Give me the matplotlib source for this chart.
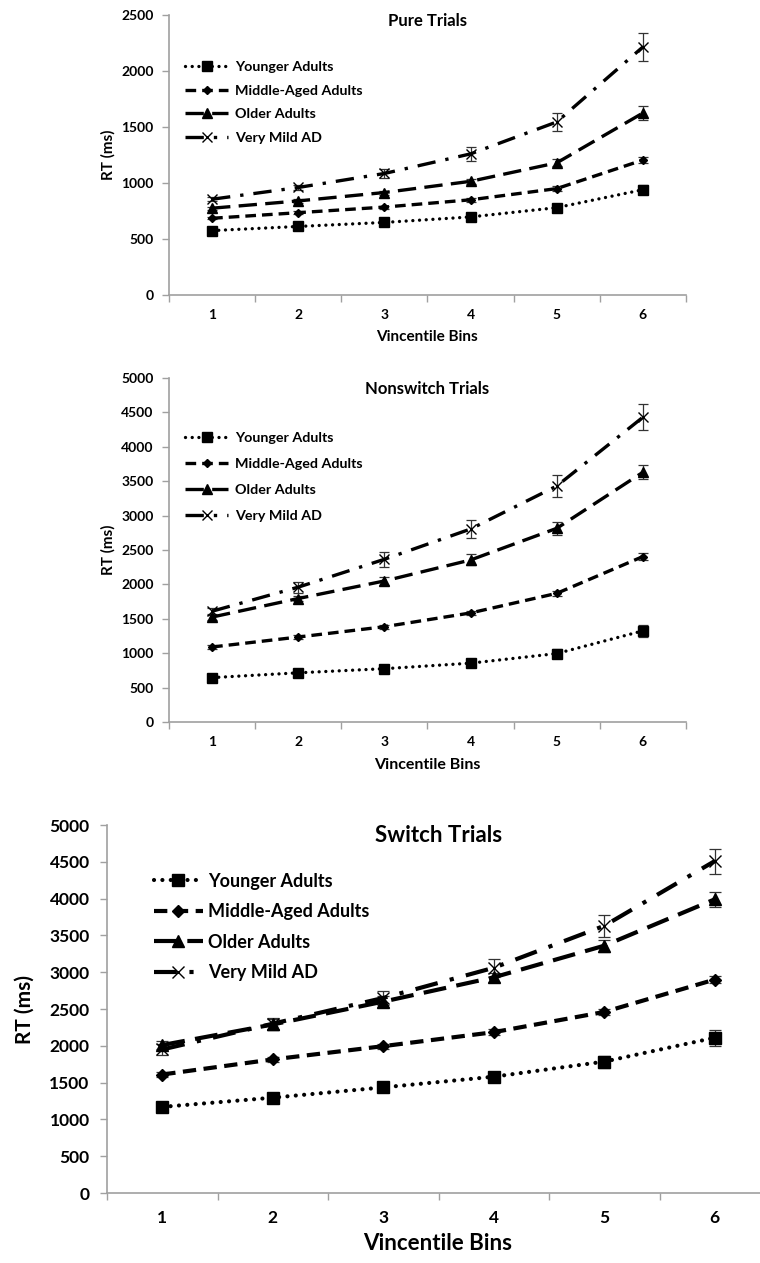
"""
Vincentile RT plots for pure, nonswitch and switch trials, one panel per trial type.
"""

import numpy as np
import matplotlib.pyplot as plt
from matplotlib.ticker import MultipleLocator, FixedLocator

plt.rcParams['font.family'] = ['Lato', 'DejaVu Sans']
plt.rcParams['font.weight'] = 'bold'

bins = [1, 2, 3, 4, 5, 6]
groups = ["Younger Adults", "Middle-Aged Adults", "Older Adults", "Very Mild AD"]

# Pure trials
pure_younger = [575, 612, 648, 697, 780, 940]
pure_middle = [685, 735, 785, 850, 950, 1205]
pure_older = [775, 840, 915, 1015, 1180, 1625]
pure_vmad = [855, 960, 1085, 1260, 1545, 2215]
pure_younger_err = [12, 12, 15, 18, 20, 40]
pure_middle_err = [10, 12, 14, 16, 20, 25]
pure_older_err = [12, 15, 18, 22, 30, 60]
pure_vmad_err = [20, 25, 40, 60, 80, 125]

# Nonswitch trials
nonswitch_younger = [645, 715, 775, 855, 995, 1325]
nonswitch_middle = [1090, 1235, 1385, 1585, 1870, 2405]
nonswitch_older = [1525, 1795, 2050, 2355, 2815, 3630]
nonswitch_vmad = [1610, 1960, 2365, 2805, 3430, 4430]
nonswitch_younger_err = [20, 25, 30, 35, 60, 90]
nonswitch_middle_err = [25, 25, 30, 35, 40, 55]
nonswitch_older_err = [40, 40, 60, 80, 90, 100]
nonswitch_vmad_err = [50, 80, 110, 130, 160, 190]

# Switch trials
switch_younger = [1170, 1295, 1435, 1580, 1785, 2110]
switch_middle = [1610, 1815, 1995, 2185, 2460, 2900]
switch_older = [2010, 2290, 2600, 2930, 3360, 3990]
switch_vmad = [1950, 2300, 2650, 3060, 3630, 4510]
switch_younger_err = [40, 40, 50, 60, 80, 110]
switch_middle_err = [30, 35, 35, 40, 40, 50]
switch_older_err = [60, 80, 70, 60, 80, 100]
switch_vmad_err = [70, 80, 100, 120, 150, 170]

W, H = 760, 1263


def px_rect(left, top, right, bottom):
    """Convert a pixel box to figure fractions for add_axes."""
    return [left / W, 1 - bottom / H, (right - left) / W, (bottom - top) / H]


def draw_panel(ax, title, series, errors, ymax, scale, title_size):
    """
    Draws one panel with the four groups and their error bars.
    :param ax: axes to draw on
    :param title: panel title
    :param series: list of four value lists
    :param errors: list of four error lists
    :param ymax: top of the y axis
    :param scale: size factor for fonts and marks
    :param title_size: font size of the panel title
    """
    lw = 2.4 * scale
    styles = [
        dict(linestyle=(0, (0.01, 2.0)), marker='s', ms=6.5 * scale, dash_capstyle='round'),
        dict(linestyle=(0, (3.2, 1.8)), marker='D', ms=4.5 * scale),
        dict(linestyle=(0, (5.5, 2.5)), marker='^', ms=7 * scale),
        dict(linestyle=(0, (5.5, 3, 1, 3)), marker='x', ms=7 * scale, mew=1.0),
    ]
    for vals, err, st, name in zip(series, errors, styles, groups):
        ax.errorbar(bins, vals, yerr=err, fmt='none', ecolor='#333333',
                    elinewidth=0.9, capsize=3.5 * scale, capthick=0.9, zorder=2)
        ax.plot(bins, vals, color='black', lw=lw, label=name, zorder=3, **st)

    ax.set_xlim(0.5, 6.5)
    ax.set_ylim(0, ymax)
    ax.yaxis.set_major_locator(MultipleLocator(500))
    ax.xaxis.set_major_locator(FixedLocator(bins))
    ax.xaxis.set_minor_locator(FixedLocator(np.arange(0.5, 7.0, 1.0)))
    ax.tick_params(axis='x', which='major', length=0, pad=10 * scale,
                   labelsize=10 * scale)
    ax.tick_params(axis='x', which='minor', length=5, color='#a0a0a0', width=1)
    ax.tick_params(axis='y', length=5, color='#a0a0a0', width=1, pad=6 * scale,
                   labelsize=10 * scale)
    for lab in ax.get_xticklabels() + ax.get_yticklabels():
        lab.set_fontweight('bold')
    for side in ['top', 'right']:
        ax.spines[side].set_visible(False)
    for side in ['left', 'bottom']:
        ax.spines[side].set_color('#a0a0a0')
        ax.spines[side].set_linewidth(1.2)

    ax.set_title(title, fontsize=title_size, fontweight='bold', y=0.93)
    return ax


fig = plt.figure(figsize=(W / 100, H / 100), dpi=100)

# Pure trials panel
ax1 = fig.add_axes(px_rect(169, 15, 686, 295))
draw_panel(ax1, "Pure Trials",
           [pure_younger, pure_middle, pure_older, pure_vmad],
           [pure_younger_err, pure_middle_err, pure_older_err, pure_vmad_err],
           2500, 1.0, 12)
ax1.legend(loc='upper left', bbox_to_anchor=(0.02, 0.855), frameon=False,
           prop={'weight': 'bold', 'size': 10.3}, handlelength=3.0,
           labelspacing=0.8, handletextpad=0.5, borderaxespad=0)

# Nonswitch trials panel
ax2 = fig.add_axes(px_rect(169, 378, 686, 722))
draw_panel(ax2, "Nonswitch Trials",
           [nonswitch_younger, nonswitch_middle, nonswitch_older, nonswitch_vmad],
           [nonswitch_younger_err, nonswitch_middle_err, nonswitch_older_err,
            nonswitch_vmad_err],
           5000, 1.0, 12)
ax2.legend(loc='upper left', bbox_to_anchor=(0.02, 0.86), frameon=False,
           prop={'weight': 'bold', 'size': 10.3}, handlelength=3.0,
           labelspacing=0.98, handletextpad=0.5, borderaxespad=0)

# Switch trials panel, runs off the right edge like the original
ax3 = fig.add_axes(px_rect(107, 825, 770, 1193))
draw_panel(ax3, "Switch Trials",
           [switch_younger, switch_middle, switch_older, switch_vmad],
           [switch_younger_err, switch_middle_err, switch_older_err, switch_vmad_err],
           5000, 1.25, 16)
ax3.legend(loc='upper left', bbox_to_anchor=(0.06, 0.89), frameon=False,
           prop={'weight': 'bold', 'size': 13}, handlelength=2.7,
           labelspacing=0.75, handletextpad=0.3, borderaxespad=0)

# Axis titles
fig.text(108 / W, 1 - 155 / H, "RT (ms)", rotation=90, ha='center', va='center',
         fontsize=11, fontweight='bold')
fig.text(427 / W, 1 - 337 / H, "Vincentile Bins", ha='center', va='center',
         fontsize=11, fontweight='bold')
fig.text(108 / W, 1 - 550 / H, "RT (ms)", rotation=90, ha='center', va='center',
         fontsize=11, fontweight='bold')
fig.text(427 / W, 1 - 765 / H, "Vincentile Bins", ha='center', va='center',
         fontsize=11.5, fontweight='bold')
fig.text(25 / W, 1 - 1010 / H, "RT (ms)", rotation=90, ha='center', va='center',
         fontsize=15, fontweight='bold')
fig.text(438 / W, 1 - 1243 / H, "Vincentile Bins", ha='center', va='center',
         fontsize=16, fontweight='bold')

plt.savefig("out.png", dpi=100)
